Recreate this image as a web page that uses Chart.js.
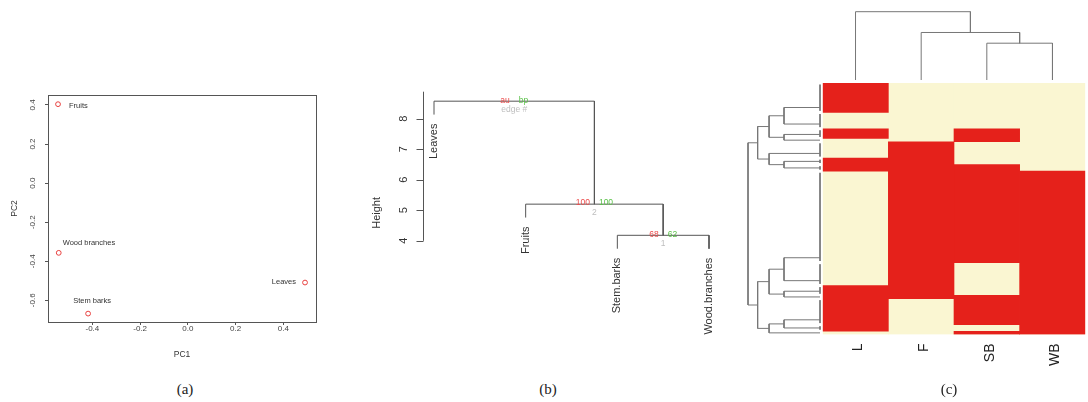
<!DOCTYPE html>
<html>
<head>
<meta charset="utf-8">
<script src="https://cdn.jsdelivr.net/npm/chart.js@4/dist/chart.umd.min.js"></script>
<style>
html, body { margin: 0; padding: 0; background: #fff; }
#fig { position: relative; width: 1088px; height: 402px; overflow: hidden; }
canvas { position: absolute; }
.cap { position: absolute; font-family: "Liberation Serif", "Times New Roman", serif; font-size: 15px; color: #222; transform: translate(-50%, -50%); }
</style>
</head>
<body>
<div id="fig">
  <canvas id="pcaChart" width="330" height="300" style="left:0;top:80px"></canvas>
  <canvas id="clusterChart" width="380" height="280" style="left:360px;top:80px"></canvas>
  <canvas id="colDendroChart" width="278" height="85" style="left:810px;top:0"></canvas>
  <canvas id="rowDendroChart" width="85" height="300" style="left:740px;top:75px"></canvas>
  <canvas id="heatChart" width="278" height="300" style="left:810px;top:75px"></canvas>
  <div class="cap" style="left:185px;top:389px">(a)</div>
  <div class="cap" style="left:548px;top:389px">(b)</div>
  <div class="cap" style="left:949px;top:389px">(c)</div>
</div>
<script>
// (a) PCA scores
var pcaNames = ['Fruits', 'Wood branches', 'Stem barks', 'Leaves'];
var pc1 = [-0.544, -0.541, -0.418, 0.491];
var pc2 = [0.404, -0.357, -0.668, -0.509];
var pc1Ticks = [-0.4, -0.2, 0.0, 0.2, 0.4];
var pc2Ticks = [-0.6, -0.4, -0.2, 0.0, 0.2, 0.4];

// (b) pvclust tree (hclust style merges)
var treeLabels = ['Leaves', 'Fruits', 'Stem.barks', 'Wood.branches'];
var mergeLeft = [-3, -2, -1];
var mergeRight = [-4, 1, 2];
var mergeHeight = [4.18, 5.20, 8.57];
var auValues = [68, 100];
var bpValues = [62, 100];
var heightTicks = [4, 5, 6, 7, 8];

// (c) presence heatmap, rows grouped by identical pattern
var organs = ['L', 'F', 'SB', 'WB'];
var groupSize = [9, 5, 3, 1, 5, 2, 2, 28, 7, 3, 1, 8, 2, 1];
var inL  = [1, 0, 1, 0, 0, 1, 1, 0, 0, 1, 1, 1, 1, 0];
var inF  = [0, 0, 0, 0, 1, 1, 1, 1, 1, 1, 1, 0, 0, 0];
var inSB = [0, 0, 1, 1, 0, 0, 1, 1, 0, 0, 1, 1, 0, 1];
var inWB = [0, 0, 0, 0, 0, 0, 0, 1, 1, 1, 1, 1, 1, 1];
var rowTree = [[[[0, 1], [2, 3]], [4, [5, 6]]], [[[7, 8], [9, 10]], [[11, 12], 13]]];
var colTree = [0, [1, [2, 3]]];

var RED = '#e5211b';
var CREAM = '#faf6d2';
Chart.defaults.font.family = '"Liberation Sans", Arial, sans-serif';

var noLegend = { legend: { display: false }, tooltip: { enabled: false } };

// ---------- (a) ----------
var pointLabelPlace = {
    'Fruits': { align: 'left', dx: 11, dy: 1.5 },
    'Wood branches': { align: 'left', dx: 4, dy: -9.5 },
    'Stem barks': { align: 'center', dx: 4, dy: -12.5 },
    'Leaves': { align: 'right', dx: -9, dy: -0.5 }
};

var pcaPlugin = {
    id: 'pcaExtras',
    afterDraw: function (chart) {
        var ctx = chart.ctx, a = chart.chartArea, ys = chart.scales.y;
        ctx.save();
        ctx.strokeStyle = '#555';
        ctx.lineWidth = 1;
        ctx.strokeRect(Math.round(a.left) + 0.5, Math.round(a.top) + 0.5,
            Math.round(a.right - a.left), Math.round(a.bottom - a.top));
        ctx.fillStyle = '#444';
        ctx.font = '8px "Liberation Sans"';
        ctx.textAlign = 'center';
        ctx.textBaseline = 'middle';
        ys.ticks.forEach(function (t) {
            ctx.save();
            ctx.translate(a.left - 15, ys.getPixelForValue(t.value));
            ctx.rotate(-Math.PI / 2);
            ctx.fillText(Number(t.value).toFixed(1), 0, 0);
            ctx.restore();
        });
        ctx.font = '7.5px "Liberation Sans"';
        ctx.fillStyle = '#333';
        chart.getDatasetMeta(0).data.forEach(function (pt, i) {
            var p = pointLabelPlace[pcaNames[i]];
            ctx.textAlign = p.align;
            ctx.fillText(pcaNames[i], pt.x + p.dx, pt.y + p.dy);
        });
        ctx.restore();
    }
};

new Chart(document.getElementById('pcaChart'), {
    type: 'scatter',
    data: {
        datasets: [{
            data: pcaNames.map(function (n, i) { return { x: pc1[i], y: pc2[i] }; }),
            pointRadius: 2.4,
            pointBorderWidth: 1,
            borderColor: '#e8403f',
            backgroundColor: 'rgba(0,0,0,0)'
        }]
    },
    options: {
        responsive: false,
        animation: false,
        layout: { padding: { left: 0, top: 15, right: 14, bottom: 0 } },
        plugins: noLegend,
        scales: {
            x: {
                type: 'linear', min: -0.586, max: 0.537,
                afterBuildTicks: function (s) { s.ticks = pc1Ticks.map(function (v) { return { value: v }; }); },
                afterFit: function (s) { s.height = 58; },
                grid: { drawOnChartArea: false, tickLength: 3, color: '#555' },
                border: { display: false },
                ticks: {
                    padding: 0, color: '#444', font: { size: 8, lineHeight: 1 },
                    callback: function (v) { return Number(v).toFixed(1); }
                },
                title: { display: true, text: 'PC1', color: '#333', font: { size: 8.5 }, padding: { top: 0, bottom: 20 } }
            },
            y: {
                type: 'linear', min: -0.711, max: 0.451,
                afterBuildTicks: function (s) { s.ticks = pc2Ticks.map(function (v) { return { value: v }; }); },
                afterFit: function (s) { s.width = 48; },
                grid: { drawOnChartArea: false, tickLength: 3, color: '#555' },
                border: { display: false },
                ticks: { display: false },
                title: { display: true, text: 'PC2', color: '#333', font: { size: 8.5 }, padding: { top: 10, bottom: 0 } }
            }
        }
    },
    plugins: [pcaPlugin]
});

// ---------- (b) ----------
var hang = 0.1 * (Math.max.apply(null, mergeHeight) - Math.min.apply(null, mergeHeight));
var treeNodes = [];
var leafTip = [];
var treeSets = [];
mergeHeight.forEach(function (h, i) {
    var kids = [mergeLeft[i], mergeRight[i]].map(function (k) {
        if (k < 0) {
            leafTip[-k - 1] = h - hang;
            return { x: -k, y: h - hang };
        }
        return { x: treeNodes[k - 1].x, y: treeNodes[k - 1].h };
    });
    treeNodes.push({ x: (kids[0].x + kids[1].x) / 2, h: h });
    treeSets.push([kids[0], { x: kids[0].x, y: h }, { x: kids[1].x, y: h }, kids[1]]);
});

var treePlugin = {
    id: 'treeExtras',
    afterDraw: function (chart) {
        var ctx = chart.ctx, a = chart.chartArea, xs = chart.scales.x, ys = chart.scales.y;
        ctx.save();
        // height axis
        ctx.strokeStyle = '#555';
        ctx.lineWidth = 1;
        ctx.beginPath();
        var ax = Math.round(a.left) + 0.5;
        ctx.moveTo(ax, ys.getPixelForValue(heightTicks[0]));
        ctx.lineTo(ax, a.top);
        heightTicks.forEach(function (t) {
            var y = Math.round(ys.getPixelForValue(t)) + 0.5;
            ctx.moveTo(ax, y);
            ctx.lineTo(ax - 7, y);
        });
        ctx.stroke();
        ctx.fillStyle = '#333';
        ctx.font = '11px "Liberation Sans"';
        ctx.textAlign = 'center';
        ctx.textBaseline = 'middle';
        heightTicks.forEach(function (t) {
            ctx.save();
            ctx.translate(a.left - 19, ys.getPixelForValue(t));
            ctx.rotate(-Math.PI / 2);
            ctx.fillText(String(t), 0, 0);
            ctx.restore();
        });
        ctx.save();
        ctx.translate(a.left - 46, (a.top + a.bottom) / 2);
        ctx.rotate(-Math.PI / 2);
        ctx.fillText('Height', 0, 0);
        ctx.restore();
        // leaf labels
        ctx.textAlign = 'right';
        treeLabels.forEach(function (lab, i) {
            ctx.save();
            ctx.translate(xs.getPixelForValue(i + 1), ys.getPixelForValue(leafTip[i]) + 9);
            ctx.rotate(-Math.PI / 2);
            ctx.fillText(lab, 0, 0);
            ctx.restore();
        });
        // au / bp / edge numbers
        ctx.font = '8.5px "Liberation Sans"';
        treeNodes.forEach(function (n, i) {
            var root = i === treeNodes.length - 1;
            var px = xs.getPixelForValue(n.x), py = ys.getPixelForValue(n.h);
            ctx.textBaseline = 'middle';
            ctx.fillStyle = '#ec4b4b';
            ctx.textAlign = 'right';
            ctx.fillText(root ? 'au' : String(auValues[i]), px - 4.5, py - 1);
            ctx.fillStyle = '#5cc24a';
            ctx.textAlign = 'left';
            ctx.fillText(root ? 'bp' : String(bpValues[i]), px + 4.5, py - 1);
            ctx.fillStyle = '#bebebe';
            ctx.textAlign = 'center';
            ctx.textBaseline = 'top';
            ctx.fillText(root ? 'edge #' : String(i + 1), px, py + 4);
        });
        ctx.restore();
    }
};

new Chart(document.getElementById('clusterChart'), {
    type: 'scatter',
    data: {
        datasets: treeSets.map(function (d) {
            return { data: d, showLine: true, pointRadius: 0, borderColor: '#555', borderWidth: 1, clip: false };
        })
    },
    options: {
        responsive: false,
        animation: false,
        layout: { padding: { left: 63, right: 20, top: 11.7, bottom: 26 } },
        plugins: noLegend,
        scales: {
            x: { type: 'linear', min: 0.88, max: 4.12, display: false },
            y: { type: 'linear', min: 0.95, max: 8.88, display: false }
        }
    },
    plugins: [treePlugin]
});

// ---------- (c) ----------
var presence = [inL, inF, inSB, inWB];
var groupStart = [];
var totalRows = 0;
groupSize.forEach(function (n) { groupStart.push(totalRows); totalRows += n; });

function treeLeaves(t) {
    return Array.isArray(t) ? treeLeaves(t[0]).concat(treeLeaves(t[1])) : [t];
}
function rowDist(a, b) {
    var s = 0;
    presence.forEach(function (col) { s += Math.pow(col[a] - col[b], 2); });
    return Math.sqrt(s);
}
function colDist(a, b) {
    var s = 0;
    groupSize.forEach(function (n, g) { s += n * Math.pow(presence[a][g] - presence[b][g], 2); });
    return Math.sqrt(s);
}
// complete linkage height of a subtree
function completeHeight(t, dist) {
    var m = treeLeaves(t), h = 0;
    for (var i = 0; i < m.length; i++) {
        for (var j = i + 1; j < m.length; j++) h = Math.max(h, dist(m[i], m[j]));
    }
    return h;
}
function buildDendro(t, leafPos, dist, segs) {
    if (!Array.isArray(t)) return { p: leafPos(t), h: 0 };
    var a = buildDendro(t[0], leafPos, dist, segs);
    var b = buildDendro(t[1], leafPos, dist, segs);
    var h = completeHeight(t, dist);
    segs.push([{ p: a.p, h: a.h }, { p: a.p, h: h }, { p: b.p, h: h }, { p: b.p, h: b.h }]);
    return { p: (a.p + b.p) / 2, h: h };
}

// identical rows join at height 0 one after another
var rowSegs = [];
var rowRoot = buildDendro(rowTree, function (g) {
    var n = groupSize[g], s = groupStart[g], m = 0;
    for (var k = 1; k < n; k++) m = (m + k) / 2;
    if (n > 1) rowSegs.push([{ p: s + 0.5, h: 0 }, { p: s + n - 0.5, h: 0 }]);
    return s + m + 0.5;
}, rowDist, rowSegs);

var colSegs = [];
var colRoot = buildDendro(colTree, function (c) { return c + 0.5; }, colDist, colSegs);

function lineSets(segs, flip) {
    return segs.map(function (s) {
        return {
            data: s.map(function (pt) { return flip ? { x: pt.h, y: pt.p } : { x: pt.p, y: pt.h }; }),
            showLine: true, pointRadius: 0, borderColor: '#777', borderWidth: 1, clip: false
        };
    });
}

new Chart(document.getElementById('colDendroChart'), {
    type: 'scatter',
    data: { datasets: lineSets(colSegs, false) },
    options: {
        responsive: false,
        animation: false,
        layout: { padding: { left: 12.7, right: 2.7, top: 11.7, bottom: 5 } },
        plugins: noLegend,
        scales: {
            x: { type: 'linear', min: 0, max: organs.length, display: false },
            y: { type: 'linear', min: 0, max: colRoot.h, display: false }
        }
    }
});

new Chart(document.getElementById('rowDendroChart'), {
    type: 'scatter',
    data: { datasets: lineSets(rowSegs, true) },
    options: {
        responsive: false,
        animation: false,
        layout: { padding: { left: 8, right: 5, top: 8, bottom: 40.5 } },
        plugins: noLegend,
        scales: {
            x: { type: 'linear', reverse: true, min: 0, max: rowRoot.h, display: false },
            y: { type: 'linear', reverse: true, min: 0, max: totalRows, display: false }
        }
    }
});

// red runs of presence; the cream background goes last so it is drawn underneath
var heatSets = [];
presence.forEach(function (col, c) {
    var g = 0;
    while (g < col.length) {
        if (!col[g]) { g++; continue; }
        var start = groupStart[g];
        while (g < col.length && col[g]) g++;
        var end = g < col.length ? groupStart[g] : totalRows;
        heatSets.push({
            data: organs.map(function (o, i) { return i === c ? [start, end] : null; }),
            backgroundColor: RED
        });
    }
});
heatSets.push({ data: organs.map(function () { return [0, totalRows]; }), backgroundColor: CREAM });

new Chart(document.getElementById('heatChart'), {
    type: 'bar',
    data: { labels: organs, datasets: heatSets },
    options: {
        responsive: false,
        animation: false,
        layout: { padding: { left: 12.7, right: 2.7, top: 8, bottom: 0 } },
        datasets: { bar: { grouped: false, barPercentage: 1, categoryPercentage: 1, borderWidth: 0 } },
        plugins: noLegend,
        scales: {
            x: {
                grid: { display: false },
                border: { display: false },
                afterFit: function (s) { s.height = 40.5; },
                ticks: {
                    autoSkip: false, minRotation: 90, maxRotation: 90, padding: 1, labelOffset: 3,
                    color: '#222', font: { size: 14 }
                }
            },
            y: { reverse: true, min: 0, max: totalRows, display: false }
        }
    }
});
</script>
</body>
</html>
